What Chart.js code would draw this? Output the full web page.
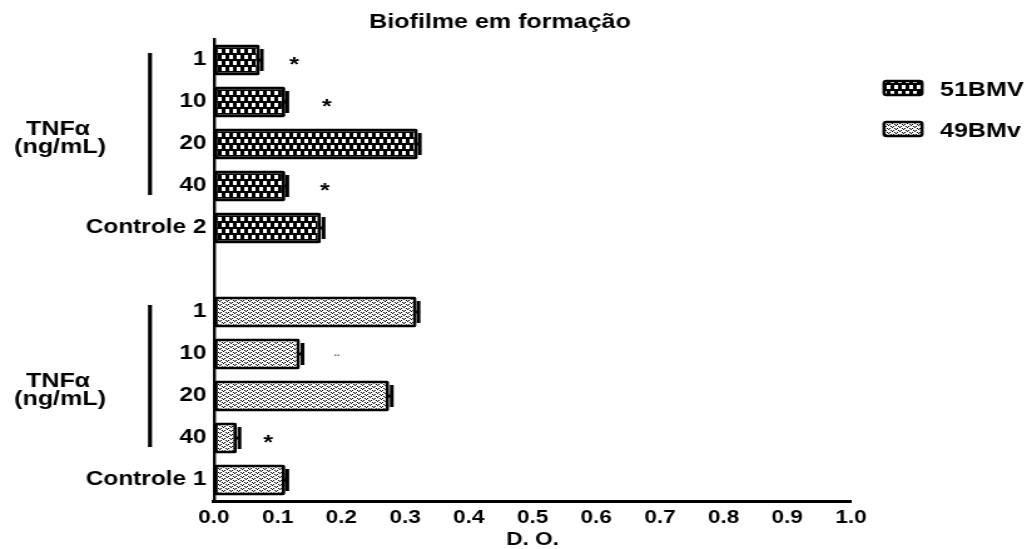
<!DOCTYPE html>
<html>
<head>
<meta charset="utf-8">
<script src="https://cdn.jsdelivr.net/npm/chart.js@4/dist/chart.umd.min.js"></script>
<style>
  html, body { margin: 0; padding: 0; background: #fff; }
  canvas { display: block; }
</style>
</head>
<body>
<!-- drawn at 820 wide and stretched to 1027 like the original figure -->
<canvas id="bio" width="820" height="549" style="width:1027px;height:549px"></canvas>
<script>
// data
const categories = ["1", "10", "20", "40", "Controle 2", "", "1", "10", "20", "40", "Controle 1"];
const seriesNames = ["51BMV", "49BMv"];
const bmv51 = [0.072, 0.112, 0.320, 0.112, 0.168, null, null, null, null, null, null];
const bmv49 = [null, null, null, null, null, null, 0.318, 0.135, 0.275, 0.036, 0.112];
const sem51 = [0.003, 0.003, 0.003, 0.003, 0.004, null, null, null, null, null, null];
const sem49 = [null, null, null, null, null, null, 0.003, 0.004, 0.004, 0.004, 0.003];
const xTickLabels = ["0.0", "0.1", "0.2", "0.3", "0.4", "0.5", "0.6", "0.7", "0.8", "0.9", "1.0"];
// significance marks: category index, D.O. position, text
const starIndex = [0, 1, 3, 7, 9];
const starValue = [0.126, 0.177, 0.174, 0.193, 0.085];
const starText = ["*", "*", "*", "..", "*"];
// TNFα dose groups (first and last category index)
const doseGroups = [[0, 3], [6, 9]];

const FONT = '"Liberation Sans", Arial, Helvetica, sans-serif';
const SX = 820 / 1027; // page px -> canvas px (horizontal)

function makePattern(kind) {
  const c = document.createElement("canvas");
  const g = c.getContext("2d");
  if (kind === "check") {
    c.width = 6; c.height = 12;
    g.fillStyle = "#000"; g.fillRect(0, 0, 6, 12);
    g.fillStyle = "#fff";
    g.fillRect(0, 1, 3, 4);
    g.fillRect(3, 7, 3, 4);
  } else {
    c.width = 6; c.height = 4;
    g.fillStyle = "#fff"; g.fillRect(0, 0, 6, 4);
    g.fillStyle = "#000";
    g.fillRect(0, 0, 1, 1); g.fillRect(2, 0, 1, 1); g.fillRect(1, 1, 1, 1);
    g.fillRect(3, 2, 1, 1); g.fillRect(5, 2, 1, 1); g.fillRect(4, 3, 1, 1);
  }
  return g.createPattern(c, "repeat");
}

const canvas = document.getElementById("bio");
const ctx0 = canvas.getContext("2d");
const pat51 = makePattern("check");
const pat49 = makePattern("dots");

const extras = {
  id: "extras",
  afterDatasetsDraw(chart) {
    const { ctx, scales: { x, y } } = chart;
    ctx.save();
    ctx.strokeStyle = "#000";
    [[bmv51, sem51], [bmv49, sem49]].forEach(([vals, sems]) => {
      vals.forEach((v, i) => {
        if (v == null) return;
        const x1 = x.getPixelForValue(v);
        const x2 = x.getPixelForValue(v + sems[i]);
        const yc = y.getPixelForValue(i);
        ctx.lineWidth = 3;
        ctx.beginPath(); ctx.moveTo(x1 - 1, yc); ctx.lineTo(x2, yc); ctx.stroke();
        ctx.lineWidth = 3;
        ctx.beginPath(); ctx.moveTo(x2, yc - 11); ctx.lineTo(x2, yc + 11); ctx.stroke();
      });
    });
    ctx.restore();
  },
  afterDraw(chart) {
    const { ctx, scales: { x, y } } = chart;
    ctx.save();
    ctx.fillStyle = "#000";

    // title
    ctx.font = "bold 20px " + FONT;
    ctx.textAlign = "center";
    ctx.textBaseline = "alphabetic";
    ctx.fillText("Biofilme em formação", 500 * SX, 28);

    // significance marks
    starIndex.forEach((ci, k) => {
      const yc = y.getPixelForValue(ci);
      const xc = x.getPixelForValue(starValue[k]);
      if (starText[k] === "*") {
        ctx.font = "bold 20px " + FONT;
        ctx.fillStyle = "#000";
        ctx.fillText("*", xc, yc + 11);
      } else {
        ctx.font = "bold 9px " + FONT;
        ctx.fillStyle = "#555";
        ctx.fillText(starText[k], xc, yc + 2);
      }
    });
    ctx.fillStyle = "#000";

    // dose group brackets and labels
    doseGroups.forEach(([a, b]) => {
      const top = y.getPixelForValue(a) - 7;
      const bot = y.getPixelForValue(b) + 9;
      ctx.lineWidth = 3.2;
      ctx.strokeStyle = "#000";
      ctx.beginPath(); ctx.moveTo(150 * SX, top); ctx.lineTo(150 * SX, bot); ctx.stroke();
      const mid = (y.getPixelForValue(a) + y.getPixelForValue(b)) / 2;
      ctx.font = "bold 20px " + FONT;
      ctx.textAlign = "center";
      ctx.fillText("TNFα", 58 * SX, mid + 12);
      ctx.fillText("(ng/mL)", 60 * SX, mid + 30);
    });

    // legend
    const pats = [pat51, pat49];
    const rows = [81, 122];
    seriesNames.forEach((name, i) => {
      const bx = 884 * SX, bw = 38 * SX, by = rows[i], bh = 14;
      ctx.fillStyle = pats[i];
      ctx.fillRect(bx, by, bw, bh);
      ctx.lineWidth = 2.5;
      ctx.strokeStyle = "#000";
      ctx.beginPath();
      ctx.roundRect(bx, by, bw, bh, 2);
      ctx.stroke();
      ctx.fillStyle = "#000";
      ctx.font = "bold 20px " + FONT;
      ctx.textAlign = "left";
      ctx.fillText(name, 940 * SX, by + 15);
    });
    ctx.restore();
  }
};

new Chart(ctx0, {
  type: "bar",
  data: {
    labels: categories,
    datasets: [
      {
        label: seriesNames[0],
        data: bmv51,
        backgroundColor: pat51,
        borderColor: "#000",
        borderWidth: 3,
        borderRadius: 2,
        borderSkipped: false
      },
      {
        label: seriesNames[1],
        data: bmv49,
        backgroundColor: pat49,
        borderColor: "#000",
        borderWidth: 3,
        borderRadius: 2,
        borderSkipped: false
      }
    ]
  },
  options: {
    indexAxis: "y",
    responsive: false,
    animation: false,
    devicePixelRatio: 1,
    grouped: false,
    barPercentage: 0.74,
    categoryPercentage: 1.0,
    layout: { padding: { left: 0, right: 820 - 851 * SX, top: 39, bottom: 0 } },
    plugins: {
      legend: { display: false },
      title: { display: false },
      tooltip: { enabled: false }
    },
    scales: {
      x: {
        min: 0,
        max: 1,
        grid: { display: false, drawTicks: false },
        border: { display: true, color: "#000", width: 3 },
        ticks: {
          stepSize: 0.1,
          color: "#000",
          padding: 6,
          maxRotation: 0,
          font: { family: FONT, size: 18, weight: "bold" },
          callback: (v, i) => xTickLabels[i]
        },
        title: {
          display: true,
          text: "D. O.",
          color: "#000",
          padding: 0,
          font: { family: FONT, size: 18, weight: "bold", lineHeight: 1 }
        },
        afterFit(scale) { scale.height = 48; }
      },
      y: {
        grid: { display: false, drawTicks: false },
        border: { display: true, color: "#000", width: 2.4 },
        ticks: {
          color: "#000",
          padding: 6,
          autoSkip: false,
          font: { family: FONT, size: 19.5, weight: "bold" }
        },
        afterFit(scale) { scale.width = 214 * SX; }
      }
    }
  },
  plugins: [extras]
});
</script>
</body>
</html>
